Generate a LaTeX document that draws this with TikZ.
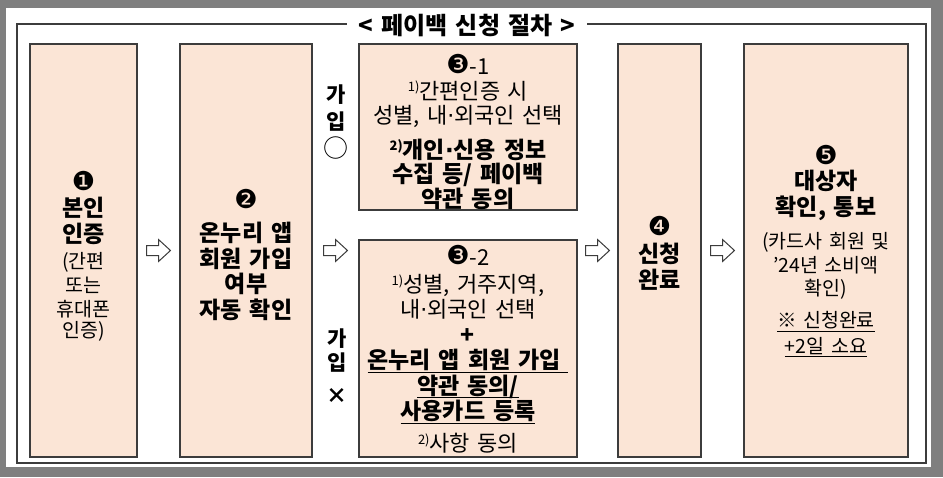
\documentclass[tikz,border=0pt]{standalone}
\usepackage{fontspec}
\setmainfont[WordSpace=1.5]{Noto Sans CJK KR}
\newfontfamily\numfont{DejaVu Sans}
\usetikzlibrary{calc}
\definecolor{peach}{HTML}{FBE5D6}
\definecolor{edge}{HTML}{3C3C3C}
\definecolor{bggray}{HTML}{7F7F7F}
\newcommand\Bf{\fontsize{23}{26}\selectfont\bfseries}
\newcommand\Rg{\fontsize{22}{25}\selectfont\mdseries}
\newcommand\Sm{\fontsize{19.5}{23}\selectfont\mdseries}
\newcommand\Cn[2][30pt]{\raisebox{1.5pt}[#1][0pt]{\numfont\fontsize{26}{26}\selectfont #2}}
\newcommand\Spx[1]{\raisebox{0.6ex}{\fontsize{13}{13}\selectfont #1}}
\newcommand\Dot{{\numfont ·}}
\newcommand\Ulx[1]{\leavevmode\setbox0=\hbox{#1}\rlap{\raisebox{-4pt}{\rule{\wd0}{0.9pt}}}\box0}
\tikzset{
  box/.style={draw=edge, fill=peach, line width=1.5pt, inner sep=0pt, align=center},
  arrline/.style={draw=edge, fill=white, line width=1pt, line join=miter},
  frame/.style={draw=edge, line width=2pt},
  side/.style={align=center, inner sep=0pt}
}
\newcommand\blockarrow[1]{\draw[arrline] ($(#1)+(-12,-5)$) -- ++(12,0) -- ++(0,-6) -- ++(12,11) -- ++(-12,11) -- ++(0,-6) -- ++(-12,0) -- cycle;}
\begin{document}
\begin{tikzpicture}[x=1pt,y=-1pt]
\fill[bggray] (0,0) rectangle (943,477);
\useasboundingbox (0,0) rectangle (943,477);
\fill[white] (6,8) rectangle (931,467);
\draw[frame] (17,24) rectangle (926,463);
\node[fill=white, inner xsep=12pt, inner ysep=2pt, font=\fontsize{24}{24}\selectfont\bfseries] (title) at (467,26) {< 페이백 신청 절차 >};

\node[box, minimum width=107pt, minimum height=413pt, font=\fontsize{22}{24}\selectfont] (b1) at (83.5,250.5)
 {\Cn[32pt]{❶}\\[0pt] \Bf 본인\\[2pt] \Bf 인증\\[2pt] \Sm (간편\\ \Sm 또는\\ \Sm 휴대폰\\[-3pt] \Sm 인증)};

\node[box, minimum width=132pt, minimum height=413pt, font=\fontsize{22}{25.5}\selectfont] (b2) at (246,250.5)
 {\Cn{❷}\\[6pt] \Bf 온누리 앱\\ \Bf 회원 가입\\ \Bf 여부\\ \Bf 자동 확인};

\node[box, minimum width=218pt, minimum height=166pt, font=\fontsize{22}{24.5}\selectfont] (b31) at (468,127)
 {\Cn{❸}{\Rg -1}\\
  \Rg\Spx{1)}간편인증 시\\
  \Rg 성별, 내\Dot 외국인 선택\\[10pt]
  \Bf\Spx{2)}개인\Dot 신용 정보\\
  \Bf 수집 등/ 페이백\\
  \Bf 약관 동의};

\node[box, minimum width=218pt, minimum height=217pt, font=\fontsize{22}{25.5}\selectfont] (b32) at (468,348.5)
 {\Cn[22pt]{❸}{\Rg -2}\\[1pt]
  \Rg\Spx{1)}성별, 거주지역,\\
  \Rg 내\Dot 외국인 선택\\
  \Bf +\\
  \Bf\Ulx{온누리 앱 회원 가입\ }\\
  \Bf\Ulx{약관 동의/}\\
  \Bf\Ulx{사용카드 등록}\\[6pt]
  \Rg\Spx{2)}사항 동의};

\node[box, minimum width=83pt, minimum height=413pt, font=\fontsize{22}{25}\selectfont] (b4) at (659.5,250.5)
 {\Cn[26pt]{❹}\\[0pt] \Bf 신청\\[1pt] \Bf 완료};

\node[box, minimum width=164pt, minimum height=413pt, font=\fontsize{22}{25.5}\selectfont] (b5) at (826,250.5)
 {\Cn[22pt]{❺}\\[-2pt]
  \Bf 대상자\\[1pt]
  \Bf 확인, 통보\\[7pt]
  \Sm (카드사 회원 및\\[-1pt]
  \Sm ’24년 소비액\\[-3pt]
  \Sm 확인)\\[7pt]
  \Sm\Ulx{※ 신청완료}\\
  \Sm\Ulx{+2일 소요}};

\node[side, font=\fontsize{21}{27.5}\selectfont\bfseries] (j1) at (336,121.5) {가\\입\\{\mdseries\fontsize{25}{25}\selectfont ○}};
\node[side, font=\fontsize{21}{24}\selectfont\bfseries] (j2) at (337,366) {가\\입\\[9pt]×};

\coordinate (m12) at ($(b1.east)!0.5!(b2.west)$);
\coordinate (m23) at ($(b2.east)!0.5!(b31.west |- b2.east)$);
\coordinate (m34) at ($(b31.east |- b4.west)!0.5!(b4.west)$);
\coordinate (m45) at ($(b4.east)!0.5!(b5.west)$);
\blockarrow{m12}
\blockarrow{m23}
\blockarrow{m34}
\blockarrow{m45}
\end{tikzpicture}
\end{document}
